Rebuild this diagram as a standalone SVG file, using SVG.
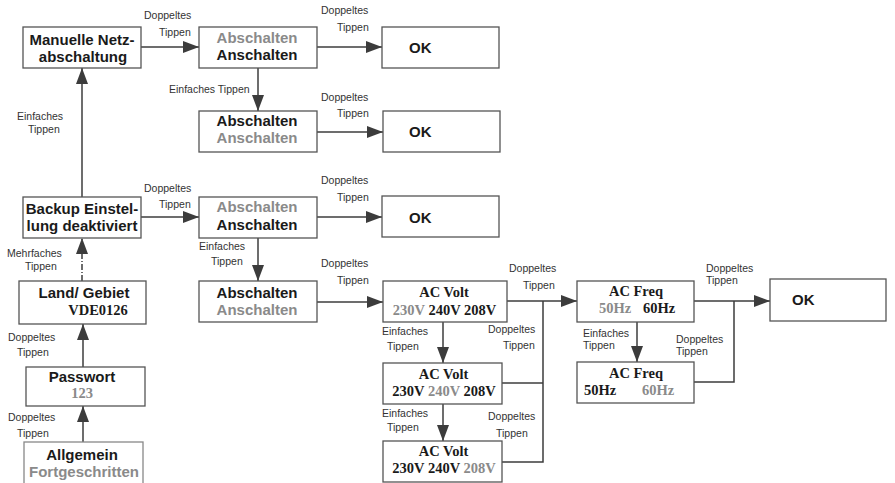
<svg xmlns="http://www.w3.org/2000/svg" width="895" height="483" viewBox="0 0 895 483">
<defs>
<marker id="ah" markerUnits="userSpaceOnUse" markerWidth="16" markerHeight="12" refX="16" refY="6" orient="auto">
<path d="M0,0 L16,6 L0,12 z" fill="#3c3c3c"/>
</marker>
<style>
.box{fill:#fff;stroke:#555;stroke-width:1.3}
.lbl{font-family:"Liberation Sans",Arial,sans-serif;font-size:10.5px;fill:#333}
.b{font-family:"Liberation Sans",Arial,sans-serif;font-size:15px;font-weight:700;fill:#1a1a1a}
.s{font-family:"Liberation Serif","Times New Roman",serif;font-size:14.5px;font-weight:700;fill:#1a1a1a}
.g{fill:#8a8a8a}
.c{text-anchor:middle}
.ln{fill:none;stroke:#3c3c3c;stroke-width:1.5}
.ar{fill:none;stroke:#3c3c3c;stroke-width:1.5;marker-end:url(#ah)}
</style>
</defs>
<rect width="895" height="483" fill="#fff"/>

<g id="connectors">
<path class="ar" d="M141,47 H199"/>
<path class="ar" d="M317,47 H382"/>
<path class="ar" d="M258,68 V111"/>
<path class="ar" d="M317,132 H383"/>
<path class="ar" d="M82,197 V68"/>
<path class="ar" d="M141,217 H199"/>
<path class="ar" d="M317,217 H382"/>
<path class="ar" d="M258,238 V281"/>
<path class="ar" d="M317,302 H383"/>
<path class="ar" d="M82,281 V238" stroke-dasharray="6,2,1,2"/>
<path class="ar" d="M83,367 V324"/>
<path class="ar" d="M83,442 V406"/>
<path class="ar" d="M507,301 H577"/>
<path class="ar" d="M443,322 V363"/>
<path class="ar" d="M443,404 V441"/>
<path class="ln" d="M502,383 H543"/>
<path class="ln" d="M502,462 H543 V301"/>
<path class="ar" d="M694,301 H770"/>
<path class="ar" d="M637,322 V362"/>
<path class="ln" d="M694,382 H734 V301"/>

<text class="lbl"><tspan x="144" y="19">Doppeltes</tspan><tspan x="159" y="36">Tippen</tspan></text>
<text class="lbl"><tspan x="321" y="14">Doppeltes</tspan><tspan x="337" y="31">Tippen</tspan></text>
<text class="lbl" x="169" y="93">Einfaches Tippen</text>
<text class="lbl"><tspan x="321" y="101">Doppeltes</tspan><tspan x="337" y="117">Tippen</tspan></text>
<text class="lbl"><tspan x="17" y="120">Einfaches</tspan><tspan x="28" y="133">Tippen</tspan></text>
<text class="lbl"><tspan x="144" y="192">Doppeltes</tspan><tspan x="159" y="208">Tippen</tspan></text>
<text class="lbl"><tspan x="321" y="184">Doppeltes</tspan><tspan x="337" y="201">Tippen</tspan></text>
<text class="lbl"><tspan x="199" y="250">Einfaches</tspan><tspan x="211" y="265">Tippen</tspan></text>
<text class="lbl"><tspan x="321" y="267">Doppeltes</tspan><tspan x="337" y="284">Tippen</tspan></text>
<text class="lbl"><tspan x="7" y="257">Mehrfaches</tspan><tspan x="25" y="270">Tippen</tspan></text>
<text class="lbl"><tspan x="8" y="341">Doppeltes</tspan><tspan x="17" y="356">Tippen</tspan></text>
<text class="lbl"><tspan x="8" y="421">Doppeltes</tspan><tspan x="17" y="437">Tippen</tspan></text>
<text class="lbl"><tspan x="509" y="272">Doppeltes</tspan><tspan x="523" y="289">Tippen</tspan></text>
<text class="lbl"><tspan x="382" y="335">Einfaches</tspan><tspan x="387" y="350">Tippen</tspan></text>
<text class="lbl"><tspan x="488" y="333">Doppeltes</tspan><tspan x="503" y="349">Tippen</tspan></text>
<text class="lbl"><tspan x="382" y="417">Einfaches</tspan><tspan x="387" y="431">Tippen</tspan></text>
<text class="lbl"><tspan x="488" y="420">Doppeltes</tspan><tspan x="496" y="437">Tippen</tspan></text>
<text class="lbl"><tspan x="706" y="272">Doppeltes</tspan><tspan x="706" y="284">Tippen</tspan></text>
<text class="lbl"><tspan x="583" y="337">Einfaches</tspan><tspan x="583" y="349">Tippen</tspan></text>
<text class="lbl"><tspan x="676" y="343">Doppeltes</tspan><tspan x="676" y="355">Tippen</tspan></text>
</g>

<g id="manuelle">
<rect class="box" x="23" y="27" width="118" height="41"/>
<text class="b c"><tspan x="82" y="45">Manuelle Netz-</tspan><tspan x="83" y="62">abschaltung</tspan></text>
</g>
<g id="abs1">
<rect class="box" x="199" y="27" width="118" height="41"/>
<text class="b c"><tspan class="g" x="257" y="43">Abschalten</tspan><tspan x="257" y="60">Anschalten</tspan></text>
</g>
<g id="ok1">
<rect class="box" x="382" y="27" width="117" height="41"/>
<text class="b" x="409" y="53">OK</text>
</g>
<g id="abs2">
<rect class="box" x="199" y="111" width="118" height="41"/>
<text class="b c"><tspan x="257" y="126">Abschalten</tspan><tspan class="g" x="257" y="143">Anschalten</tspan></text>
</g>
<g id="ok2">
<rect class="box" x="383" y="111" width="117" height="41"/>
<text class="b" x="409" y="137">OK</text>
</g>
<g id="backup">
<rect class="box" x="23" y="197" width="118" height="41"/>
<text class="b c"><tspan x="82" y="214">Backup Einstel-</tspan><tspan x="82" y="231">lung deaktiviert</tspan></text>
</g>
<g id="abs3">
<rect class="box" x="199" y="197" width="118" height="41"/>
<text class="b c"><tspan class="g" x="257" y="212">Abschalten</tspan><tspan x="257" y="230">Anschalten</tspan></text>
</g>
<g id="ok3">
<rect class="box" x="382" y="196" width="117" height="41"/>
<text class="b" x="409" y="223">OK</text>
</g>
<g id="abs4">
<rect class="box" x="199" y="281" width="118" height="41"/>
<text class="b c"><tspan x="257" y="298">Abschalten</tspan><tspan class="g" x="257" y="315">Anschalten</tspan></text>
</g>
<g id="land">
<rect class="box" x="19" y="281" width="127" height="43"/>
<text class="b c" x="84" y="298">Land/ Gebiet</text>
<text class="s c" x="98" y="315">VDE0126</text>
</g>
<g id="passwort">
<rect class="box" x="26" y="367" width="119" height="39"/>
<text class="b c" x="82" y="382">Passwort</text>
<text class="s c g" x="82" y="398">123</text>
</g>
<g id="allgemein">
<rect class="box" x="24" y="442" width="119" height="50" style="stroke:#888"/>
<text class="b c"><tspan x="82" y="460">Allgemein</tspan><tspan class="g" x="84" y="477">Fortgeschritten</tspan></text>
</g>
<g id="acvolt1">
<rect class="box" x="383" y="281" width="124" height="41"/>
<text class="s c"><tspan x="444" y="297">AC Volt</tspan><tspan x="444.5" y="315"><tspan class="g">230V</tspan> 240V 208V</tspan></text>
</g>
<g id="acvolt2">
<rect class="box" x="383" y="363" width="119" height="41"/>
<text class="s c"><tspan x="443.5" y="379">AC Volt</tspan><tspan x="444" y="396">230V <tspan class="g">240V</tspan> 208V</tspan></text>
</g>
<g id="acvolt3">
<rect class="box" x="383" y="441" width="119" height="41"/>
<text class="s c"><tspan x="443.5" y="456">AC Volt</tspan><tspan x="444" y="473">230V 240V <tspan class="g">208V</tspan></tspan></text>
</g>
<g id="acfreq1">
<rect class="box" x="577" y="281" width="117" height="41"/>
<text class="s"><tspan x="636" y="296" text-anchor="middle">AC Freq</tspan><tspan class="g" x="599" y="313">50Hz</tspan><tspan x="643" y="313">60Hz</tspan></text>
</g>
<g id="acfreq2">
<rect class="box" x="577" y="362" width="117" height="41"/>
<text class="s"><tspan x="636" y="378" text-anchor="middle">AC Freq</tspan><tspan x="584" y="395">50Hz</tspan><tspan class="g" x="642" y="395">60Hz</tspan></text>
</g>
<g id="ok4">
<rect class="box" x="770" y="279" width="116" height="42"/>
<text class="b" x="792" y="305">OK</text>
</g>
</svg>
